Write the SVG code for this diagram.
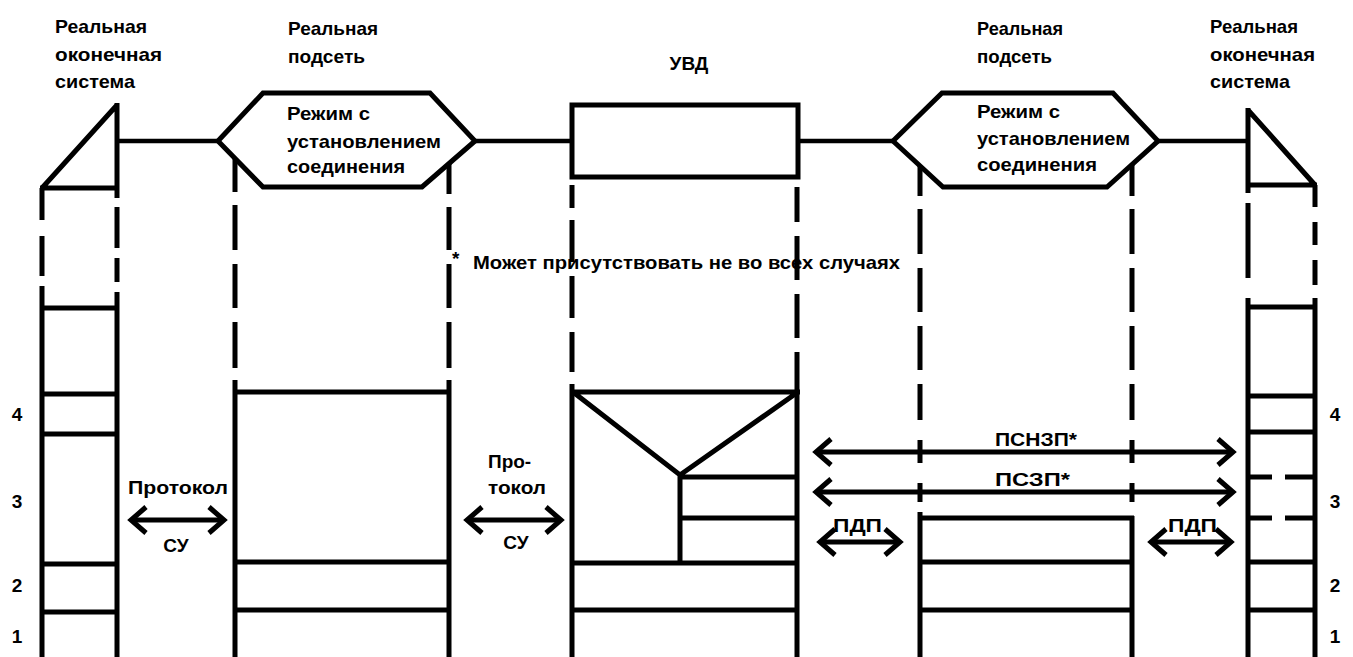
<svg xmlns="http://www.w3.org/2000/svg" width="1353" height="657" viewBox="0 0 1353 657">
<defs>
<style>
.ln{stroke:#000;stroke-width:5;fill:none;stroke-linecap:butt;stroke-linejoin:miter}
.th{stroke-width:4.5}
.t{font-family:"Liberation Sans",Arial,Helvetica,sans-serif;font-weight:bold;font-size:19px;fill:#000}
.arr{stroke:#000;stroke-width:5;fill:none;marker-start:url(#ah);marker-end:url(#ah)}
</style>
<marker id="ah" viewBox="-24 -20 30 40" refX="0" refY="0" markerWidth="30" markerHeight="40" markerUnits="userSpaceOnUse" orient="auto-start-reverse">
<path d="M-15,-13 L0,0 L-15,13" fill="none" stroke="#000" stroke-width="5" stroke-linejoin="miter"/>
</marker>
</defs>
<rect width="1353" height="657" fill="#fff"/>

<g id="connectors">
<path class="ln th" d="M117,141 H218 M475,141 H572 M798,141 H893 M1158,141 H1248"/>
<path class="arr" d="M131,520 H224"/>
<path class="arr" d="M467,520 H561"/>
<path class="arr" d="M816,452 H1233"/>
<path class="arr" d="M816,492 H1233"/>
<path class="arr" d="M820,542 H900"/>
<path class="arr" d="M1151,542 H1231"/>
<text class="t" x="128" y="494" textLength="100" lengthAdjust="spacingAndGlyphs">Протокол</text>
<text class="t" x="176" y="552" text-anchor="middle">СУ</text>
<text class="t" x="488" y="468">Про-</text>
<text class="t" x="488" y="494" textLength="58" lengthAdjust="spacingAndGlyphs">токол</text>
<text class="t" x="516" y="549" text-anchor="middle">СУ</text>
<text class="t" x="995" y="446" textLength="82" lengthAdjust="spacingAndGlyphs">ПСНЗП*</text>
<text class="t" x="995" y="486" textLength="75" lengthAdjust="spacingAndGlyphs">ПСЗП*</text>
<text class="t" x="833" y="532" textLength="49" lengthAdjust="spacingAndGlyphs">ПДП</text>
<text class="t" x="1168" y="532" textLength="49" lengthAdjust="spacingAndGlyphs">ПДП</text>
</g>

<g id="end-system-left">
<text class="t" x="55" y="33" textLength="92" lengthAdjust="spacingAndGlyphs">Реальная</text>
<text class="t" x="55" y="61" textLength="107" lengthAdjust="spacingAndGlyphs">оконечная</text>
<text class="t" x="55" y="88" textLength="80" lengthAdjust="spacingAndGlyphs">система</text>
<path class="ln" d="M42,188 L117,105 M117,103 V198 M40,188 H119"/>
<path class="ln" d="M42,188 V220 M42,236 V276 M42,286 V657"/>
<path class="ln" d="M117,207 V248 M117,258 V282 M117,292 V657"/>
<path class="ln" d="M42,308 H117 M42,394 H117 M42,434 H117 M42,564 H117 M42,612 H117"/>
<text class="t" x="17" y="421" text-anchor="middle">4</text>
<text class="t" x="17" y="508" text-anchor="middle">3</text>
<text class="t" x="17" y="592" text-anchor="middle">2</text>
<text class="t" x="17" y="643" text-anchor="middle">1</text>
</g>

<g id="subnet-left">
<text class="t" x="288" y="35" textLength="90" lengthAdjust="spacingAndGlyphs">Реальная</text>
<text class="t" x="288" y="63" textLength="77" lengthAdjust="spacingAndGlyphs">подсеть</text>
<polygon class="ln" points="218,141 263,93 430,93 475,141 422,187 263,187"/>
<text class="t" x="287" y="120" textLength="83" lengthAdjust="spacingAndGlyphs">Режим с</text>
<text class="t" x="287" y="148" textLength="154" lengthAdjust="spacingAndGlyphs">установлением</text>
<text class="t" x="287" y="173" textLength="118" lengthAdjust="spacingAndGlyphs">соединения</text>
<path class="ln" d="M235,158 V192 M235,205 V250 M235,264 V308 M235,322 V368 M235,380 V657"/>
<path class="ln" d="M449,163 V194 M449,207 V250 M449,264 V308 M449,322 V368 M449,380 V657"/>
<path class="ln" d="M233,392 H451 M235,562 H449 M235,610 H449"/>
</g>

<g id="uvd">
<text class="t" x="689" y="70" text-anchor="middle" font-size="20">УВД</text>
<rect class="ln" x="572" y="105" width="226" height="72"/>
<path class="ln" d="M572,185 V208 M572,220 V262 M572,276 V318 M572,332 V372 M572,384 V657"/>
<path class="ln" d="M797,187 V222 M797,236 V280 M797,294 V338 M797,352 V657"/>
<path class="ln" d="M570,392 H800 M573,392 L680,475 L798,392 M680,475 V563 M680,477 H798 M680,518 H798 M572,563 H798 M572,610 H798"/>
</g>

<g id="subnet-right">
<text class="t" x="977" y="35" textLength="86" lengthAdjust="spacingAndGlyphs">Реальная</text>
<text class="t" x="977" y="63" textLength="75" lengthAdjust="spacingAndGlyphs">подсеть</text>
<polygon class="ln" points="893,141 942,93 1113,93 1158,141 1107,187 943,187"/>
<text class="t" x="977" y="118" textLength="83" lengthAdjust="spacingAndGlyphs">Режим с</text>
<text class="t" x="977" y="145" textLength="153" lengthAdjust="spacingAndGlyphs">установлением</text>
<text class="t" x="977" y="171" textLength="120" lengthAdjust="spacingAndGlyphs">соединения</text>
<path class="ln" d="M920,166 V196 M920,209 V254 M920,268 V312 M920,326 V370 M920,384 V420 M920,440 V463 M920,483 V502 M920,512 V657"/>
<path class="ln" d="M1132,165 V196 M1132,209 V254 M1132,268 V312 M1132,326 V370 M1132,384 V420 M1132,440 V463 M1132,483 V502 M1132,516 V657"/>
<path class="ln" d="M918,518 H1134 M920,562 H1132 M920,610 H1132"/>
</g>

<g id="end-system-right">
<text class="t" x="1210" y="33" textLength="88" lengthAdjust="spacingAndGlyphs">Реальная</text>
<text class="t" x="1210" y="61" textLength="105" lengthAdjust="spacingAndGlyphs">оконечная</text>
<text class="t" x="1210" y="88" textLength="80" lengthAdjust="spacingAndGlyphs">система</text>
<path class="ln" d="M1248,110 L1315,185 M1248,108 V193 M1246,185 H1317"/>
<path class="ln" d="M1248,203 V278 M1248,298 V657"/>
<path class="ln" d="M1315,185 V207 M1315,222 V245 M1315,260 V285 M1315,298 V657"/>
<path class="ln" d="M1248,307 H1315 M1248,396 H1315 M1248,432 H1315 M1250,477 H1272 M1285,477 H1313 M1250,518 H1272 M1285,518 H1313 M1248,562 H1315 M1248,610 H1315"/>
<text class="t" x="1335" y="421" text-anchor="middle">4</text>
<text class="t" x="1335" y="508" text-anchor="middle">3</text>
<text class="t" x="1335" y="592" text-anchor="middle">2</text>
<text class="t" x="1335" y="643" text-anchor="middle">1</text>
</g>

<g id="note">
<text class="t" x="452" y="265" font-size="24">*</text>
<text class="t" x="473" y="269" textLength="427" lengthAdjust="spacingAndGlyphs">Может присутствовать не во всех случаях</text>
</g>
</svg>
